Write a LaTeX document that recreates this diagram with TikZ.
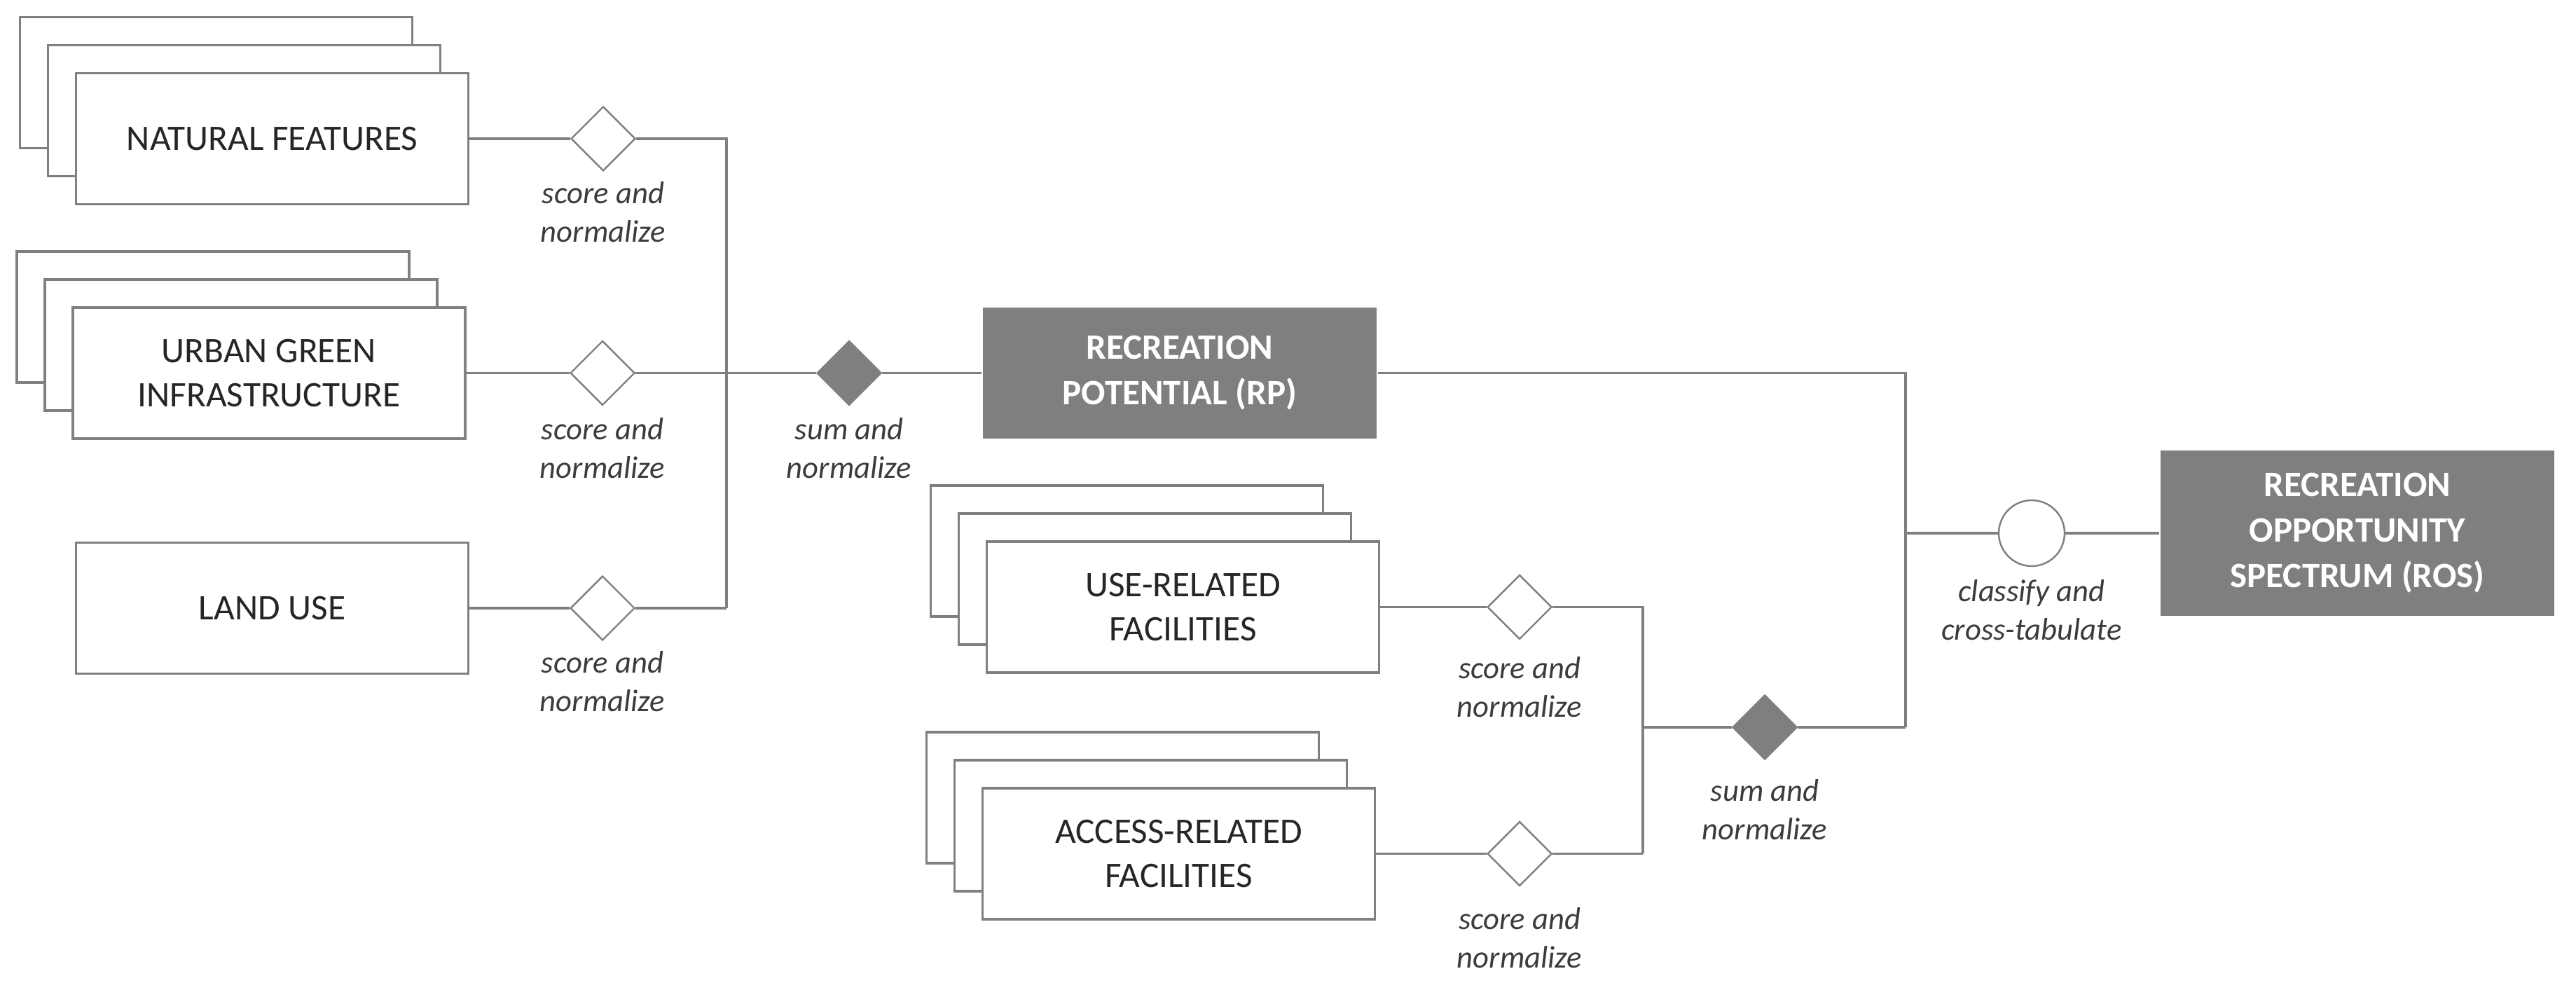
\documentclass[tikz,border=0pt]{standalone}
\usepackage{fontspec}
\setmainfont{Carlito}
\usetikzlibrary{positioning, shapes.geometric, shadows, backgrounds}
\definecolor{linegray}{HTML}{808080}
\definecolor{boxgray}{HTML}{7F7F7F}
\definecolor{textdark}{HTML}{262626}
\tikzset{
  box/.style={draw=linegray, line width=1pt, fill=white, minimum width=5.6cm, minimum height=1.87cm, inner sep=0pt, align=center, text=textdark, font=\fontsize{14.6}{18}\selectfont},
  stack/.style={box, double copy shadow={shadow xshift=-4mm, shadow yshift=4mm, draw=linegray, fill=white}},
  result/.style={box, draw=none, fill=boxgray, text=white, minimum width=5.62cm, font=\fontsize{14.5}{18.5}\selectfont\bfseries},
  score/.style={diamond, draw=linegray, line width=0.7pt, fill=white, inner sep=0pt, minimum width=0.92cm, minimum height=0.92cm},
  sumnode/.style={score, draw=boxgray, fill=boxgray},
  classify/.style={circle, draw=linegray, line width=0.7pt, fill=white, inner sep=0pt, minimum size=0.94cm},
  lbl/.style={align=center, inner sep=0pt, text=textdark!90, font=\fontsize{12.7}{15.6}\selectfont\itshape},
  link/.style={draw=linegray, line width=1pt}
}

\begin{document}
\begin{tikzpicture}
  \useasboundingbox (0,0) rectangle (36.77,-14.33);

  % inputs of RP
  \node[stack] (nf) at (3.885,-1.98) {NATURAL FEATURES};
  \node[stack] (ugi) at (3.84,-5.325) {URBAN GREEN\\INFRASTRUCTURE};
  \node[box] (land) at (3.885,-8.68) {LAND USE};

  % inputs of facilities
  \node[stack] (use) at (16.885,-8.665) {USE-RELATED\\FACILITIES};
  \node[stack] (acc) at (16.825,-12.185) {ACCESS-RELATED\\FACILITIES};

  % results
  \node[result] (rp) at (16.84,-5.325) {RECREATION\\POTENTIAL (RP)};
  \node[result, minimum height=2.36cm] (ros) at (33.65,-7.61) {RECREATION\\OPPORTUNITY\\SPECTRUM (ROS)};

  % operations
  \node[score] (d1) at (8.61,-1.98) {};
  \node[score] (d2) at (8.60,-5.325) {};
  \node[score] (d3) at (8.60,-8.68) {};
  \node[sumnode] (s1) at (12.12,-5.325) {};
  \node[score] (d4) at (21.69,-8.665) {};
  \node[score] (d5) at (21.69,-12.185) {};
  \node[sumnode] (s2) at (25.19,-10.38) {};
  \node[classify] (c1) at (29.00,-7.61) {};

  \node[lbl, below=0.14cm of d1] (t1) {score and\\normalize};
  \node[lbl, below=0.16cm of d2] (t2) {score and\\normalize};
  \node[lbl, below=0.14cm of d3] (t3) {score and\\normalize};
  \node[lbl, below=0.16cm of s1] (t4) {sum and\\normalize};
  \node[lbl, below=0.23cm of d4] (t5) {score and\\normalize};
  \node[lbl, below=0.29cm of d5] (t6) {score and\\normalize};
  \node[lbl, below=0.27cm of s2] (t7) {sum and\\normalize};
  \node[lbl, below=0.18cm of c1] (t8) {classify and\\cross-tabulate};

  % junctions
  \coordinate (j1) at (10.37,-8.68);
  \coordinate (j2) at (27.20,-10.38);
  \coordinate (j3) at (27.20,-7.61);
  \coordinate (j4) at (23.45,-12.185);
  \coordinate (j5) at (23.45,-10.38);

  \begin{scope}[on background layer]
    \draw[link] (nf) -- (d1) -| (j1);
    \draw[link] (land) -- (d3) -- (j1);
    \draw[link] (ugi) -- (d2) -- (s1) -- (rp);
    \draw[link] (rp) -| (j2);
    \draw[link] (use) -- (d4) -| (j4);
    \draw[link] (acc) -- (d5) -- (j4);
    \draw[link] (j5) -- (s2) -- (j2);
    \draw[link] (j3) -- (c1) -- (ros);
  \end{scope}

\end{tikzpicture}
\end{document}
